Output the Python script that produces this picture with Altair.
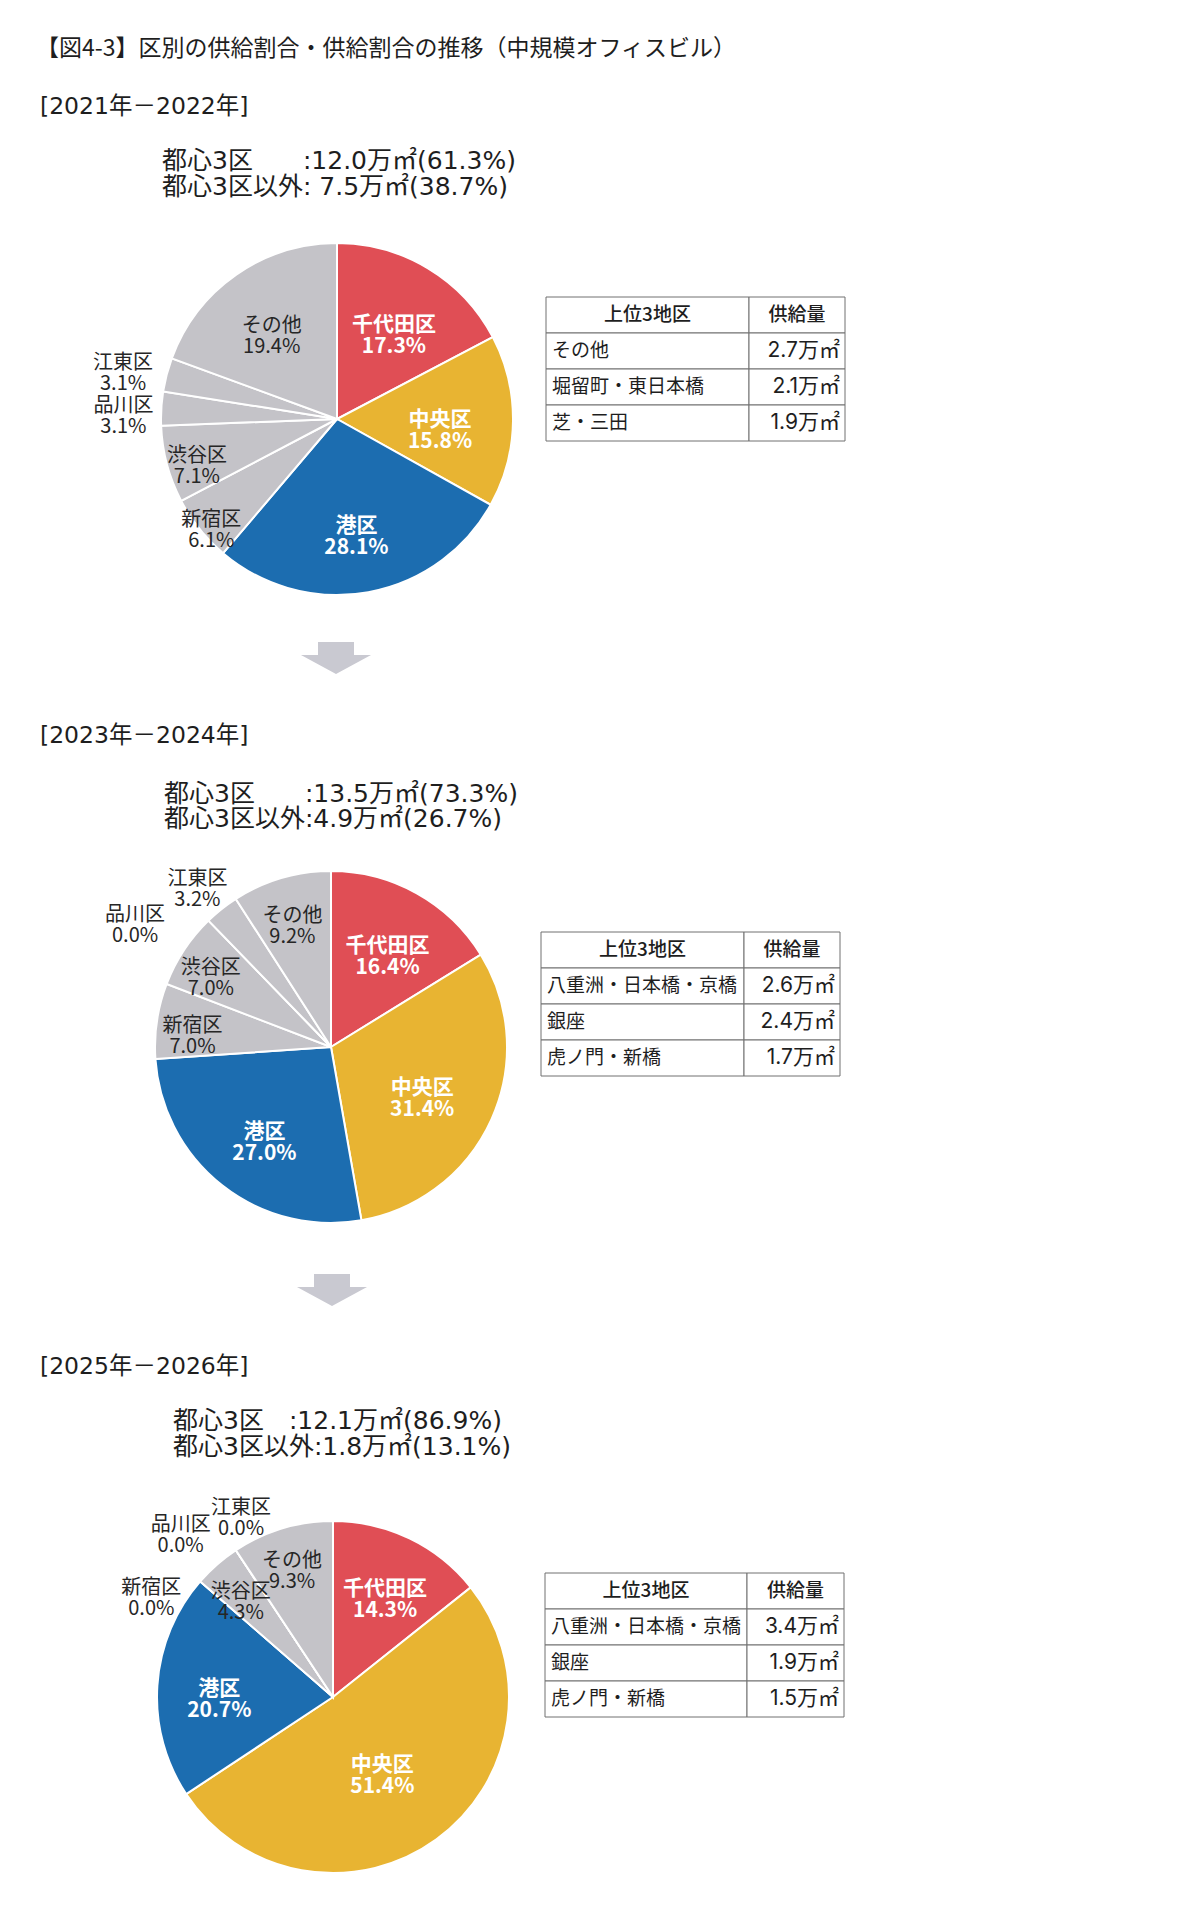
import altair as alt
import pandas as pd

FONT = "Noto Sans CJK JP"
WIDE = "'DejaVu Sans', 'Noto Sans CJK JP'"
MID = "Inter, 'Noto Sans CJK JP'"

# ---------------- data ----------------
title_text = "【図4-3】区別の供給割合・供給割合の推移（中規模オフィスビル）"
periods = ["[2021年－2022年]", "[2023年－2024年]", "[2025年－2026年]"]
wards = ["千代田区", "中央区", "港区", "新宿区", "渋谷区", "品川区", "江東区", "その他"]
share_2122 = [17.3, 15.8, 28.1, 6.1, 7.1, 3.1, 3.1, 19.4]
share_2324 = [16.4, 31.4, 27.0, 7.0, 7.0, 0.0, 3.2, 9.2]
share_2526 = [14.3, 51.4, 20.7, 0.0, 4.3, 0.0, 0.0, 9.3]
core_area = [12.0, 13.5, 12.1]
core_pct = [61.3, 73.3, 86.9]
other_area = [7.5, 4.9, 1.8]
other_pct = [38.7, 26.7, 13.1]
top3_head = ["上位3地区", "供給量"]
top3_names_2122 = ["その他", "堀留町・東日本橋", "芝・三田"]
top3_area_2122 = [2.7, 2.1, 1.9]
top3_names_2324 = ["八重洲・日本橋・京橋", "銀座", "虎ノ門・新橋"]
top3_area_2324 = [2.6, 2.4, 1.7]
top3_names_2526 = ["八重洲・日本橋・京橋", "銀座", "虎ノ門・新橋"]
top3_area_2526 = [3.4, 1.9, 1.5]

shares = [share_2122, share_2324, share_2526]
top_names = [top3_names_2122, top3_names_2324, top3_names_2526]
top_areas = [top3_area_2122, top3_area_2324, top3_area_2526]

# ---------------- styles / layout ----------------
ward_colors = ["#e04e55", "#e8b432", "#1c6db0", "#c4c3c8", "#c4c3c8", "#c4c3c8", "#c4c3c8", "#c4c3c8"]
W = 1184
R = 176
ROW_H = 36
ARROW = "M-0.514,-0.457 L0.514,-0.457 L0.514,-0.086 L1,-0.086 L0,0.457 L-1,-0.086 L-0.514,-0.086 Z"

layout = [
    dict(h=696, label_y=99, sum_x=154, sum_y=(153, 179), sep="\u3000\u3000", pad2=" ",
         cx=329, cy=411, tx=(538, 741, 837), ty=289, arrow=(328, 650),
         lab_r=[110, 103, 109, 161, 145, 214, 221, 114], nudge=[0, 0, 0, 0, 0, 0, 0, 0]),
    dict(h=632, label_y=32, sum_x=156, sum_y=(90, 115), sep="\u3000\u3000", pad2="",
         cx=323, cy=343, tx=(533, 736, 832), ty=228, arrow=(324, 586),
         lab_r=[116, 100, 108, 140, 144, 236, 215, 137], nudge=[0, 0, 0, 0, 0, -12, 0, 0]),
    dict(h=568, label_y=31, sum_x=165, sum_y=(85, 111), sep="\u3000", pad2="",
         cx=325, cy=361, tx=(537, 739, 836), ty=237, arrow=None,
         lab_r=[120, 84, 114, 212, 140, 230, 210, 142], nudge=[0, 0, 0, -10, 0, -8, 7.5, 0]),
]

color_scale = alt.Scale(domain=wards, range=ward_colors)


def text_layer(txt, x, y, size, font=FONT, weight="normal", align="left", color="#1e1e1e"):
    return alt.Chart(pd.DataFrame({"t": [txt]})).mark_text(
        font=font, fontSize=size, fontWeight=weight, align=align, baseline="middle", color=color
    ).encode(x=alt.value(x), y=alt.value(y), text="t:N")


sections = []
for i in range(3):
    L = layout[i]
    layers = []
    if i == 0:
        layers.append(text_layer(title_text, 28, 41, 23))
    layers.append(text_layer(periods[i], 32, L["label_y"], 23.5, font=WIDE))
    line1 = f"都心3区{L['sep']}:{core_area[i]:.1f}万㎡({core_pct[i]:.1f}%)"
    line2 = f"都心3区以外:{L['pad2']}{other_area[i]:.1f}万㎡({other_pct[i]:.1f}%)"
    layers.append(text_layer(line1, L["sum_x"], L["sum_y"][0], 25, font=WIDE))
    layers.append(text_layer(line2, L["sum_x"], L["sum_y"][1], 25, font=WIDE))

    df = pd.DataFrame({
        "name": wards,
        "v": shares[i],
        "order": list(range(len(wards))),
        "grp": ["core"] * 3 + ["other"] * 5,
    })
    lab = pd.DataFrame({"name": wards, "lr": L["lab_r"], "nudge": L["nudge"]})
    dfl = df.merge(lab, on="name")

    arcs = alt.Chart(df).mark_arc(radius=R, stroke="white", strokeWidth=2).encode(
        x=alt.value(L["cx"]), y=alt.value(L["cy"]),
        theta=alt.Theta("v:Q", stack="normalize"),
        order=alt.Order("order:Q"),
        color=alt.Color("name:N", scale=color_scale, legend=None),
    )
    layers.append(arcs)

    lbase = alt.Chart(dfl).transform_window(
        cum="sum(v)", sort=[alt.SortField("order", order="ascending")], frame=[None, 0]
    ).transform_joinaggregate(total="sum(v)").transform_calculate(
        ang="((datum.cum - datum.v/2)/datum.total)*2*PI + datum.nudge*PI/180",
        lbl="datum.name + '\\n' + format(datum.v, '.1f') + '%'",
    )
    enc = dict(
        x=alt.value(L["cx"]), y=alt.value(L["cy"]),
        theta=alt.Theta("ang:Q", scale=None, stack=False),
        radius=alt.Radius("lr:Q", scale=None),
        text="lbl:N",
    )
    layers.append(lbase.transform_filter("datum.grp == 'core'").mark_text(
        font=FONT, fontSize=21, fontWeight="bold", color="white", lineBreak="\n",
        lineHeight=22, align="center", baseline="middle").encode(**enc))
    layers.append(lbase.transform_filter("datum.grp == 'other'").mark_text(
        font=FONT, fontSize=20, fontWeight="normal", color="#262626", lineBreak="\n",
        lineHeight=21, align="center", baseline="middle").encode(**enc))

    # table
    x0, xs, x1 = L["tx"]
    ty = L["ty"]
    tdf = pd.DataFrame({
        "row": [0, 1, 2, 3],
        "c1": [top3_head[0]] + top_names[i],
        "c2": [top3_head[1]] + [f"{a:.1f}万㎡" for a in top_areas[i]],
        "hdr": [1, 0, 0, 0],
    })
    yscale = alt.Scale(domain=[0, 1, 2, 3], range=[ty, ty + 4 * ROW_H], paddingInner=0, paddingOuter=0)
    Y = alt.Y("row:O", scale=yscale, axis=None)
    tbase = alt.Chart(tdf)
    layers.append(tbase.mark_rect(fill="white", stroke="#707070", strokeWidth=1).encode(
        y=Y, x=alt.value(x0), x2=alt.value(xs)))
    layers.append(tbase.mark_rect(fill="white", stroke="#707070", strokeWidth=1).encode(
        y=Y, x=alt.value(xs), x2=alt.value(x1)))
    layers.append(tbase.transform_filter("datum.hdr == 1").mark_text(
        font=FONT, fontSize=19, fontWeight=500, color="#1e1e1e", align="center", baseline="middle"
    ).encode(y=Y, x=alt.value((x0 + xs) / 2), text="c1:N"))
    layers.append(tbase.transform_filter("datum.hdr == 1").mark_text(
        font=FONT, fontSize=19, fontWeight=500, color="#1e1e1e", align="center", baseline="middle"
    ).encode(y=Y, x=alt.value((xs + x1) / 2), text="c2:N"))
    layers.append(tbase.transform_filter("datum.hdr == 0").mark_text(
        font=FONT, fontSize=19, color="#1e1e1e", align="left", baseline="middle"
    ).encode(y=Y, x=alt.value(x0 + 6), text="c1:N"))
    layers.append(tbase.transform_filter("datum.hdr == 0").mark_text(
        font=MID, fontSize=21, color="#1e1e1e", align="right", baseline="middle"
    ).encode(y=Y, x=alt.value(x1 - 5), text="c2:N"))

    if L["arrow"] is not None:
        ax, ay = L["arrow"]
        layers.append(alt.Chart(pd.DataFrame({"a": [0]})).mark_point(
            shape=ARROW, size=4900, filled=True, fill="#c9c9d1", opacity=1, strokeWidth=0
        ).encode(x=alt.value(ax), y=alt.value(ay)))

    sec = alt.layer(*layers).resolve_scale(theta="independent", radius="independent").properties(
        width=W, height=L["h"])
    sections.append(sec)

chart = alt.vconcat(*sections, spacing=0).properties(padding=0).configure_view(stroke=None)
chart.save("out.html", embed_options={"renderer": "svg", "actions": False})
